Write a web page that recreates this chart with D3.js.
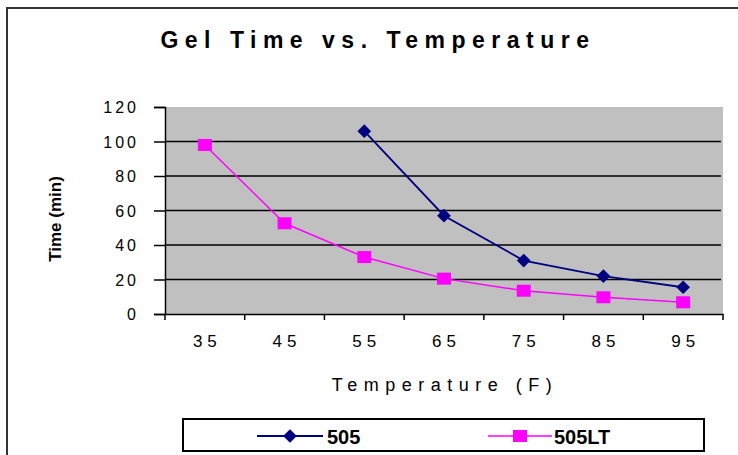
<!DOCTYPE html>
<html>
<head>
<meta charset="utf-8">
<script src="https://cdn.jsdelivr.net/npm/d3@7"></script>
<style>
  body { margin: 0; background: #fff; }
  svg { display: block; font-family: "Liberation Sans", Arial, sans-serif; }
</style>
</head>
<body>
<div id="chart"></div>
<script>
// chart data
var temps = ["35", "45", "55", "65", "75", "85", "95"];
var series505 = [null, null, 106, 57, 31, 22, 15.5];
var series505LT = [98, 52.6, 33, 20.5, 13.5, 9.7, 6.8];
var yTicks = [0, 20, 40, 60, 80, 100, 120];

var width = 738, height = 455;
var svg = d3.select("#chart").append("svg").attr("width", width).attr("height", height);

// outer chart border
svg.append("rect")
  .attr("x", 7).attr("y", 8).attr("width", 760).attr("height", 480)
  .style("fill", "none").style("stroke", "#333").style("stroke-width", 2);

// plot area
var plotL = 165, plotR = 723, plotT = 107, plotB = 314;

var x = d3.scaleBand().domain(temps).range([plotL, plotR]);
var y = d3.scaleLinear().domain([0, 120]).range([plotB, plotT]);

svg.append("rect")
  .attr("x", plotL).attr("y", plotT).attr("width", plotR - plotL).attr("height", plotB - plotT)
  .style("fill", "#c0c0c0");

// gridlines
svg.selectAll(".grid")
  .data(yTicks.filter(function(d) { return d > 0 && d < 120; }))
  .enter().append("line")
  .attr("x1", plotL).attr("x2", plotR - 2)
  .attr("y1", function(d) { return y(d); }).attr("y2", function(d) { return y(d); })
  .style("stroke", "#000").style("stroke-width", 1.6);

// y axis
var yAxis = svg.append("g")
  .attr("transform", "translate(" + plotL + ",0)")
  .call(d3.axisLeft(y).tickValues(yTicks).tickSize(11).tickPadding(15));
yAxis.select(".domain").style("stroke", "#000").style("stroke-width", 1.5);
yAxis.selectAll(".tick line").style("stroke", "#000").style("stroke-width", 1.5);
yAxis.selectAll("text")
  .style("font-size", "16px").style("letter-spacing", "3px").style("fill", "#000")
  .attr("dy", "0.36em");

// x axis with tick marks on category boundaries
var xAxis = svg.append("g")
  .attr("transform", "translate(0," + plotB + ")")
  .call(d3.axisBottom(x).tickSize(0).tickPadding(21));
xAxis.select(".domain").style("stroke", "#000").style("stroke-width", 1.5);
xAxis.selectAll("text")
  .style("font-size", "17px").style("letter-spacing", "5px").style("fill", "#000")
  .attr("dx", "2.5px");
xAxis.selectAll(".bound")
  .data(temps.concat(["end"]))
  .enter().append("line")
  .attr("class", "bound")
  .attr("x1", function(d, i) { return i < temps.length ? x(d) : plotR; })
  .attr("x2", function(d, i) { return i < temps.length ? x(d) : plotR; })
  .attr("y1", 0).attr("y2", 6)
  .style("stroke", "#000").style("stroke-width", 1.5);

// lines
var line = d3.line()
  .defined(function(d) { return d.v !== null; })
  .x(function(d) { return x(d.t) + x.bandwidth() / 2; })
  .y(function(d) { return y(d.v); });

function pts(vals) {
  return temps.map(function(t, i) { return { t: t, v: vals[i] }; });
}

var d505 = pts(series505), dLT = pts(series505LT);

svg.append("path").datum(dLT).attr("d", line)
  .style("fill", "none").style("stroke", "#ff00ff").style("stroke-width", 1.5);
svg.append("path").datum(d505).attr("d", line)
  .style("fill", "none").style("stroke", "#000080").style("stroke-width", 1.8);

var diamond = d3.symbol().type(d3.symbolDiamond2).size(120);

svg.selectAll(".sq")
  .data(dLT).enter().append("rect")
  .attr("x", function(d) { return x(d.t) + x.bandwidth() / 2 - 7; })
  .attr("y", function(d) { return y(d.v) - 6; })
  .attr("width", 14).attr("height", 12)
  .style("fill", "#ff00ff");

svg.selectAll(".dm")
  .data(d505.filter(function(d) { return d.v !== null; })).enter().append("path")
  .attr("d", diamond)
  .attr("transform", function(d) { return "translate(" + (x(d.t) + x.bandwidth() / 2) + "," + y(d.v) + ")"; })
  .style("fill", "#000080");

// titles
svg.append("text")
  .attr("x", 378).attr("y", 48).attr("text-anchor", "middle")
  .style("font-size", "23px").style("font-weight", "bold").style("letter-spacing", "6.5px")
  .text("Gel Time vs. Temperature");

svg.append("text")
  .attr("x", 445).attr("y", 391).attr("text-anchor", "middle")
  .style("font-size", "18px").style("letter-spacing", "6.5px")
  .text("Temperature (F)");

svg.append("text")
  .attr("transform", "translate(61,219) rotate(-90)")
  .attr("text-anchor", "middle")
  .style("font-size", "17px").style("font-weight", "bold")
  .text("Time (min)");

// legend
var legend = svg.append("g");
legend.append("rect")
  .attr("x", 183).attr("y", 419).attr("width", 521).attr("height", 32)
  .style("fill", "#fff").style("stroke", "#000").style("stroke-width", 2);

legend.append("line").attr("x1", 257).attr("x2", 323).attr("y1", 436).attr("y2", 436)
  .style("stroke", "#000080").style("stroke-width", 1.8);
legend.append("path").attr("d", diamond)
  .attr("transform", "translate(290,436)").style("fill", "#000080");
legend.append("text").attr("x", 327).attr("y", 444)
  .style("font-size", "20px").style("font-weight", "bold").text("505");

legend.append("line").attr("x1", 488).attr("x2", 552).attr("y1", 436).attr("y2", 436)
  .style("stroke", "#ff00ff").style("stroke-width", 1.5);
legend.append("rect").attr("x", 513).attr("y", 430).attr("width", 14).attr("height", 12)
  .style("fill", "#ff00ff");
legend.append("text").attr("x", 554).attr("y", 444)
  .style("font-size", "20px").style("font-weight", "bold").text("505LT");
</script>
</body>
</html>
